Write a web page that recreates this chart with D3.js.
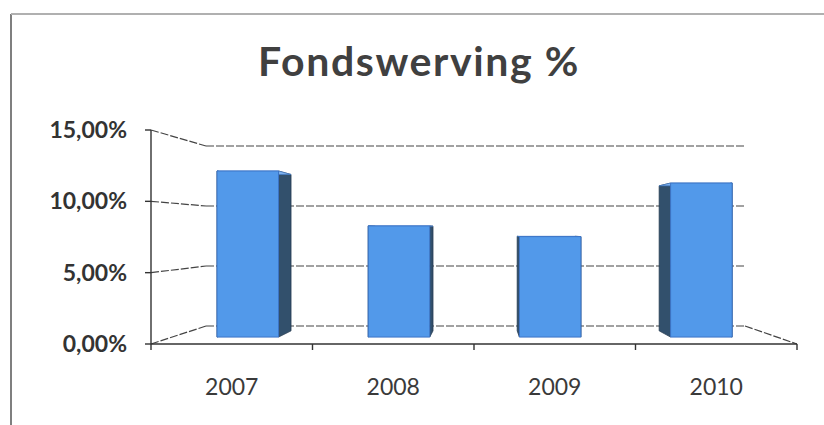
<!DOCTYPE html>
<html>
<head>
<meta charset="utf-8">
<script src="https://cdn.jsdelivr.net/npm/d3@7"></script>
<style>
  html, body { margin: 0; padding: 0; background: #fff; }
  svg { display: block; font-family: Lato, "Open Sans", sans-serif; }
</style>
</head>
<body>
<svg id="chart" width="824" height="425"></svg>
<script>
// ---- data ----
const title = "Fondswerving %";
const categories = ["2007", "2008", "2009", "2010"];
const values = [12.4, 8.3, 7.5, 11.5];
const yTicks = [0, 5, 10, 15];

// ---- layout ----
const W = 824, H = 425;
const svg = d3.select("#chart");
const front = { xl: 151, xr: 797 };
const back = { xl: 206, xr: 745 };
const yFront = d3.scaleLinear().domain([0, 15]).range([344, 130]);
const yBack = d3.scaleLinear().domain([0, 15]).range([326, 146]);
const barDepth = [0.385, 0.73];
const xFront = d3.scaleBand().domain(categories).range([front.xl, front.xr]);
const uBand = d3.scaleBand().domain(categories).range([0, 1]).paddingInner(0.593).paddingOuter(0.2965);

const locale = d3.formatLocale({ decimal: ",", thousands: ".", grouping: [3], currency: ["€", ""] });
const fmt = v => locale.format(".2f")(v) + "%";

function proj(u, v, d) {
  const xl = d3.interpolateNumber(front.xl, back.xl)(d);
  const xr = d3.interpolateNumber(front.xr, back.xr)(d);
  const y = d3.interpolateNumber(yFront(v), yBack(v))(d);
  return [xl + u * (xr - xl), y];
}
const line = d3.line();

// ---- frame ----
svg.append("line").attr("x1", 11).attr("y1", 14).attr("x2", 11).attr("y2", H)
  .attr("stroke", "#555").attr("stroke-width", 1.5);
svg.append("line").attr("x1", 11).attr("y1", 14).attr("x2", W).attr("y2", 14)
  .attr("stroke", "#b0b0b0").attr("stroke-width", 2);

// ---- title ----
svg.append("text").attr("x", 419).attr("y", 76).attr("text-anchor", "middle")
  .attr("font-size", 41).attr("font-weight", "bold").attr("fill", "#404040")
  .attr("letter-spacing", 1.6)
  .text(title);

// ---- walls / gridlines ----
const grid = svg.append("g").attr("fill", "none").attr("stroke", "#444")
  .attr("stroke-width", 1.2).attr("stroke-dasharray", "8,2");
yTicks.forEach(t => {
  grid.append("path").attr("d", line([proj(0, t, 1), proj(1, t, 1)]));
  grid.append("path").attr("d", line([proj(0, t, 0), proj(0, t, 1)]));
});
grid.append("path").attr("d", line([proj(1, 0, 1), proj(1, 0, 0)]));

// ---- bars ----
const bars = svg.append("g");
categories.forEach((c, i) => {
  const v = values[i];
  const u0 = uBand(c), u1 = uBand(c) + uBand.bandwidth();
  const [df, db] = barDepth;
  const g = bars.append("g");
  [u0, u1].forEach(u => {
    g.append("path")
      .attr("d", line([proj(u, 0, df), proj(u, v, df), proj(u, v, db), proj(u, 0, db)]) + "Z")
      .attr("fill", "#32506c").attr("stroke", "#263b50").attr("stroke-width", 0.8);
  });
  g.append("path")
    .attr("d", line([proj(u0, v, df), proj(u1, v, df), proj(u1, v, db), proj(u0, v, db)]) + "Z")
    .attr("fill", "#7fb3f0").attr("stroke", "#3f78c8").attr("stroke-width", 0.6);
  g.append("path")
    .attr("d", line([proj(u0, 0, df), proj(u0, v, df), proj(u1, v, df), proj(u1, 0, df)]) + "Z")
    .attr("fill", "#5299ea").attr("stroke", "#3c74c6").attr("stroke-width", 1);
});

// ---- front axes ----
const axes = svg.append("g").attr("stroke", "#333").attr("stroke-width", 1.4).attr("fill", "none");
axes.append("line").attr("x1", front.xl).attr("x2", front.xl)
  .attr("y1", yFront(15)).attr("y2", yFront(0));
yTicks.forEach(t => {
  axes.append("line").attr("x1", front.xl - 6).attr("x2", front.xl)
    .attr("y1", yFront(t)).attr("y2", yFront(t));
});
axes.append("line").attr("x1", front.xl).attr("x2", front.xr)
  .attr("y1", yFront(0)).attr("y2", yFront(0));
const bounds = categories.map(c => xFront(c)).concat([front.xr]);
bounds.forEach(x => {
  axes.append("line").attr("x1", x).attr("x2", x)
    .attr("y1", yFront(0)).attr("y2", yFront(0) + 6);
});

// ---- labels ----
svg.append("g").selectAll("text").data(yTicks).join("text")
  .attr("x", 127).attr("y", d => yFront(d) + 8)
  .attr("text-anchor", "end").attr("font-size", 23).attr("font-weight", "bold")
  .attr("fill", "#333").text(d => fmt(d));
svg.append("g").selectAll("text").data(categories).join("text")
  .attr("x", d => xFront(d) + xFront.bandwidth() / 2).attr("y", 395)
  .attr("text-anchor", "middle").attr("font-size", 23)
  .attr("fill", "#3a3a3a").text(d => d);
</script>
</body>
</html>
